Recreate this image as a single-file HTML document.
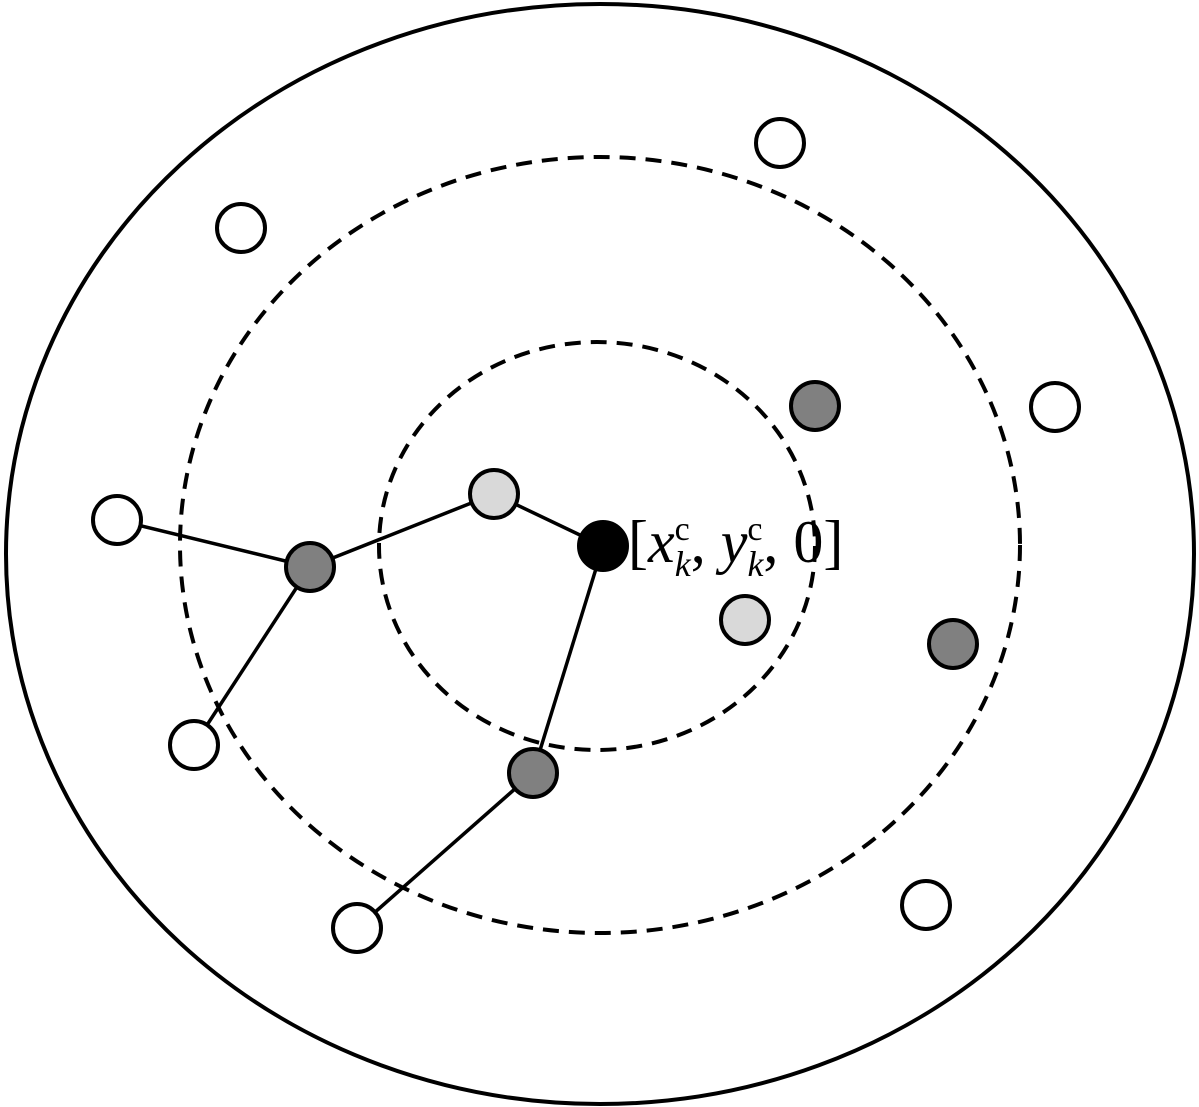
<!DOCTYPE html>
<html><head><style>body{margin:0;background:#fff}svg{display:block}</style></head><body>
<svg width="1199" height="1107" viewBox="0 0 1199 1107" xmlns="http://www.w3.org/2000/svg">
<rect width="1199" height="1107" fill="#fff"/>
<ellipse cx="600" cy="554" rx="594" ry="550" fill="none" stroke="#000" stroke-width="4"/>
<ellipse cx="600" cy="545" rx="420" ry="388" fill="none" stroke="#000" stroke-width="4" stroke-dasharray="16,10"/>
<ellipse cx="597" cy="546" rx="218" ry="204" fill="none" stroke="#000" stroke-width="4" stroke-dasharray="16,10"/>
<g stroke="#000" stroke-width="3.5">
<line x1="117" y1="520" x2="310" y2="567"/>
<line x1="310" y1="567" x2="494" y2="494"/>
<line x1="494" y1="494" x2="603" y2="546"/>
<line x1="603" y1="546" x2="533" y2="773"/>
<line x1="310" y1="567" x2="194" y2="745"/>
<line x1="533" y1="773" x2="357" y2="928"/>
</g>
<g stroke="#000" stroke-width="4">
<circle cx="241" cy="228" r="24" fill="#fff"/>
<circle cx="780" cy="143" r="24" fill="#fff"/>
<circle cx="1055" cy="407" r="24" fill="#fff"/>
<circle cx="117" cy="520" r="24" fill="#fff"/>
<circle cx="194" cy="745" r="24" fill="#fff"/>
<circle cx="357" cy="928" r="24" fill="#fff"/>
<circle cx="926" cy="905" r="24" fill="#fff"/>
<circle cx="815" cy="406" r="24" fill="#808080"/>
<circle cx="310" cy="567" r="24" fill="#808080"/>
<circle cx="953" cy="644" r="24" fill="#808080"/>
<circle cx="533" cy="773" r="24" fill="#808080"/>
<circle cx="494" cy="494" r="24" fill="#d9d9d9"/>
<circle cx="745" cy="620" r="24" fill="#d9d9d9"/>
<circle cx="603" cy="546" r="24" fill="#000"/>
</g>
<text x="628" y="562" font-family="Liberation Serif, serif" font-size="60">[<tspan font-style="italic">x</tspan><tspan font-size="34" dy="-22">c</tspan><tspan font-size="36" font-style="italic" dx="-15" dy="36">k</tspan><tspan dy="-14">, </tspan><tspan font-style="italic">y</tspan><tspan font-size="34" dy="-22">c</tspan><tspan font-size="36" font-style="italic" dx="-15" dy="36">k</tspan><tspan dy="-14">, 0]</tspan></text>
</svg>
</body></html>
